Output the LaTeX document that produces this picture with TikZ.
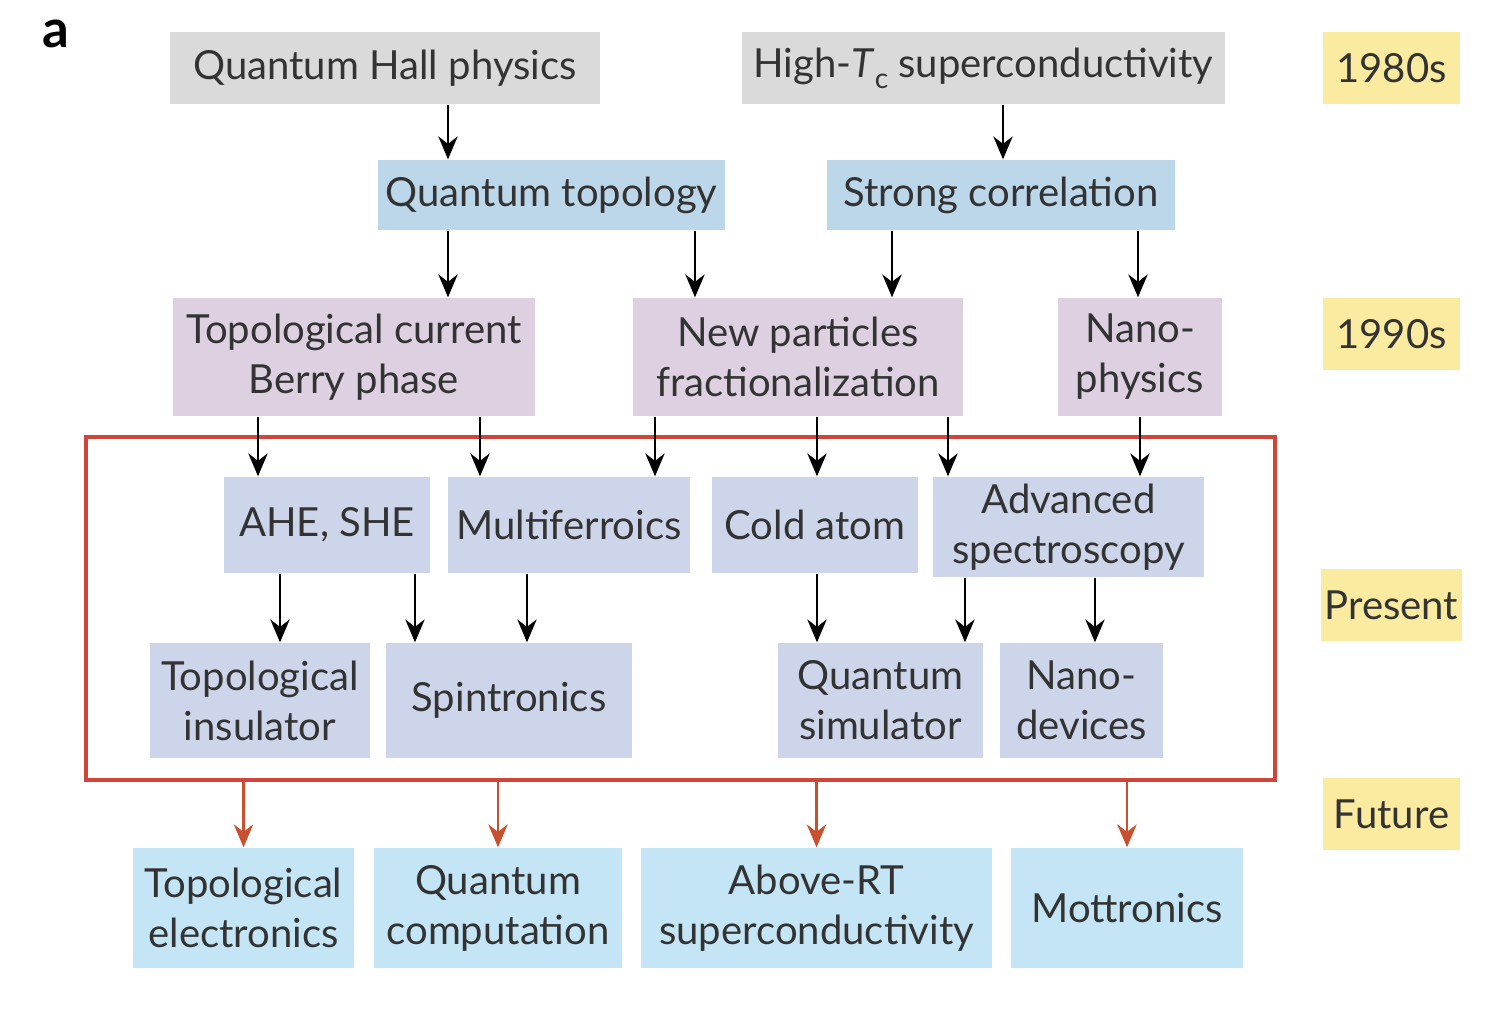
\documentclass[tikz,border=0pt]{standalone}
\usepackage{fontspec}
\setmainfont{Lato}
\usepackage{tikz}
\usetikzlibrary{arrows.meta, positioning}
\definecolor{boxgray}{HTML}{DADADA}
\definecolor{boxblue}{HTML}{BCD6EA}
\definecolor{boxmauve}{HTML}{DCD0E1}
\definecolor{boxlav}{HTML}{CDD5EA}
\definecolor{boxcyan}{HTML}{C4E5F5}
\definecolor{eraylw}{HTML}{FBEBA0}
\definecolor{framered}{HTML}{D0453A}
\definecolor{arrred}{HTML}{C8502E}

\begin{document}
\begin{tikzpicture}[
  box/.style={rectangle, inner sep=1pt, align=center, font=\fontsize{11.4}{14.2}\selectfont, text=black!80},
  era/.style={box, fill=eraylw, minimum width=1.37cm, minimum height=0.72cm},
  frame/.style={rectangle, draw=framered, line width=0.9pt},
  arr/.style={-{Stealth[length=6.5pt, width=5.5pt]}, line width=0.7pt},
  rarr/.style={arr, draw=arrred},
]
\useasboundingbox (0,0) rectangle (15,-10.28);
\node[font=\bfseries\fontsize{15}{15}\selectfont] (lbl) at (0.56,-0.34) {a};

% 1980s
\node[box, fill=boxgray, minimum width=4.30cm, minimum height=0.72cm] (qhp) at (3.85,-0.68) {Quantum Hall physics};
\node[box, fill=boxgray, minimum width=4.83cm, minimum height=0.72cm] (htc) at (9.835,-0.68) {High-\textit{T}\raisebox{-0.55ex}{\footnotesize c} superconductivity};
\node[era] (y1980) at (13.915,-0.68) {1980s};

\node[box, fill=boxblue, minimum width=3.47cm, minimum height=0.70cm] (qt) at (5.515,-1.95) {Quantum topology};
\node[box, fill=boxblue, minimum width=3.48cm, minimum height=0.70cm] (sc) at (10.01,-1.95) {Strong correlation};

% 1990s
\node[box, fill=boxmauve, minimum width=3.62cm, minimum height=1.18cm] (tc) at (3.54,-3.57) {Topological current\\Berry phase};
\node[box, fill=boxmauve, minimum width=3.30cm, minimum height=1.18cm] (np) at (7.98,-3.57) {New particles\\fractionalization};
\node[box, fill=boxmauve, minimum width=1.64cm, minimum height=1.18cm] (nano) at (11.40,-3.57) {Nano-\\physics};
\node[era] (y1990) at (13.915,-3.34) {1990s};

% present
\node[frame, minimum width=11.89cm, minimum height=3.43cm] (now) at (6.805,-6.085) {};
\node[box, fill=boxlav, minimum width=2.06cm, minimum height=0.96cm] (ahe) at (3.27,-5.25) {AHE, SHE};
\node[box, fill=boxlav, minimum width=2.42cm, minimum height=0.96cm] (mf) at (5.69,-5.25) {Multiferroics};
\node[box, fill=boxlav, minimum width=2.06cm, minimum height=0.96cm] (ca) at (8.15,-5.25) {Cold atom};
\node[box, fill=boxlav, minimum width=2.71cm, minimum height=1.00cm] (as) at (10.685,-5.27) {Advanced\\spectroscopy};
\node[era] (ypres) at (13.915,-6.05) {Present};

\node[box, fill=boxlav, minimum width=2.20cm, minimum height=1.15cm] (ti) at (2.60,-7.005) {Topological\\insulator};
\node[box, fill=boxlav, minimum width=2.46cm, minimum height=1.15cm] (sp) at (5.09,-7.005) {Spintronics};
\node[box, fill=boxlav, minimum width=2.05cm, minimum height=1.15cm] (qs) at (8.805,-7.005) {Quantum\\simulator};
\node[box, fill=boxlav, minimum width=1.63cm, minimum height=1.15cm] (nd) at (10.815,-7.005) {Nano-\\devices};

% future
\node[era] (yfut) at (13.915,-8.14) {Future};
\node[box, fill=boxcyan, minimum width=2.21cm, minimum height=1.20cm] (te) at (2.435,-9.08) {Topological\\electronics};
\node[box, fill=boxcyan, minimum width=2.48cm, minimum height=1.20cm] (qc) at (4.98,-9.08) {Quantum\\computation};
\node[box, fill=boxcyan, minimum width=3.51cm, minimum height=1.20cm] (art) at (8.165,-9.08) {Above-RT\\superconductivity};
\node[box, fill=boxcyan, minimum width=2.32cm, minimum height=1.20cm] (mott) at (11.27,-9.08) {Mottronics};

\draw[arr] (qhp.south -| 4.48,0) -- (qt.north -| 4.48,0);
\draw[arr] (htc.south -| 10.03,0) -- (sc.north -| 10.03,0);
\draw[arr] (qt.south -| 4.48,0) -- (tc.north -| 4.48,0);
\draw[arr] (qt.south -| 6.95,0) -- (np.north -| 6.95,0);
\draw[arr] (sc.south -| 8.92,0) -- (np.north -| 8.92,0);
\draw[arr] (sc.south -| 11.38,0) -- (nano.north -| 11.38,0);
\draw[arr] (tc.south -| 2.58,0) -- (ahe.north -| 2.58,0);
\draw[arr] (tc.south -| 4.80,0) -- (mf.north -| 4.80,0);
\draw[arr] (np.south -| 6.55,0) -- (mf.north -| 6.55,0);
\draw[arr] (np.south -| 8.17,0) -- (ca.north -| 8.17,0);
\draw[arr] (np.south -| 9.48,0) -- (as.north -| 9.48,0);
\draw[arr] (nano.south -| 11.40,0) -- (as.north -| 11.40,0);
\draw[arr] (ahe.south -| 2.80,0) -- (ti.north -| 2.80,0);
\draw[arr] (ahe.south -| 4.15,0) -- (sp.north -| 4.15,0);
\draw[arr] (mf.south -| 5.27,0) -- (sp.north -| 5.27,0);
\draw[arr] (ca.south -| 8.17,0) -- (qs.north -| 8.17,0);
\draw[arr] (as.south -| 9.65,0) -- (qs.north -| 9.65,0);
\draw[arr] (as.south -| 10.95,0) -- (nd.north -| 10.95,0);

\draw[rarr] (now.south -| te) -- (te);
\draw[rarr] (now.south -| qc) -- (qc);
\draw[rarr] (now.south -| art) -- (art);
\draw[rarr] (now.south -| mott) -- (mott);
\end{tikzpicture}
\end{document}
